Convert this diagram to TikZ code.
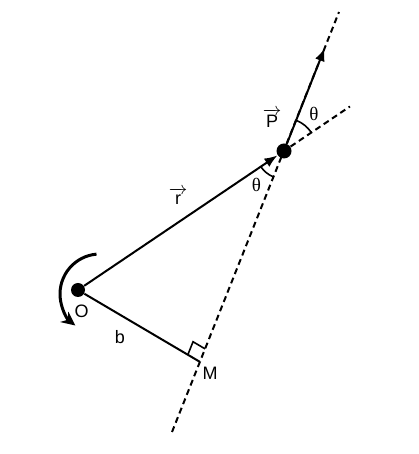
\documentclass[tikz,border=0pt]{standalone}
\usepackage{amsmath}
\usepackage{fontspec}
\setmainfont{Liberation Sans}
\newfontfamily\greekfont{Liberation Serif}
\usetikzlibrary{calc,angles,quotes,arrows.meta}

\newcommand{\arrowed}[1]{\ensuremath{\overrightarrow{\hbox to 7.5pt{\hss #1\hss}}}}
\newcommand{\thetalab}{{\greekfont\fontsize{9.5}{11}\selectfont θ}}

\begin{document}
\begin{tikzpicture}[x=0.5pt,y=0.5pt,font=\fontsize{9}{11}\selectfont,
    every node/.style={inner sep=0pt},
    ball/.style={circle,fill=black,minimum size=#1},
    traj/.style={line width=1pt,dash pattern=on 3pt off 2pt},
    vec/.style={line width=1pt,-{Latex[length=6.5pt,width=5pt]}}]
    \useasboundingbox (0,0) rectangle (418,454);
    \node[ball=7pt] (O) at (78,164) {};
    \node[ball=7.5pt] (P) at (284,303) {};
    \coordinate (lo) at (172,22);
    \coordinate (hi) at (339,442);
    \coordinate (M) at ($(lo)!0.167!(hi)$);
    \coordinate (tip) at ($(P)!0.74!(hi)$);
    \coordinate (ext) at ($(O)!1.32!(P)$);
    \coordinate (spin) at ($(O)+(22,-4)$);
    % line of motion and extension of r
    \draw[traj] (lo) -- (hi);
    \draw[traj] (P) -- (ext);
    % vectors
    \draw[vec] (O) -- (P);
    \draw[vec] (P) -- (tip);
    \draw[line width=1pt] (O) -- (M);
    % right angle at M
    \coordinate (m1) at ($(M)!7pt!(O)$);
    \coordinate (m2) at ($(M)!7pt!(P)$);
    \draw[line width=0.8pt] (m1) -- ($(m1)+(m2)-(M)$) -- (m2);
    % angles
    \pic[draw,line width=0.8pt,angle radius=16.5pt,angle eccentricity=1.45,"\thetalab"] {angle=ext--P--tip};
    \pic[draw,line width=0.8pt,angle radius=14pt,angle eccentricity=1.57,"\thetalab"] {angle=O--P--lo};
    % rotation about O
    \draw[line width=1.5pt,-{Stealth[length=7pt,width=6.5pt]}] ([shift={(95:20pt)}]spin) arc[start angle=95,end angle=232,radius=20pt];
    % labels
    \node (labO) at (81.5,143) {O};
    \node (labb) at (120,117) {b};
    \node (labM) at (210,81) {M};
    \node (labr) at (178,258) {\arrowed{r}};
    \node (labP) at (272,336) {\arrowed{P}};
\end{tikzpicture}
\end{document}
